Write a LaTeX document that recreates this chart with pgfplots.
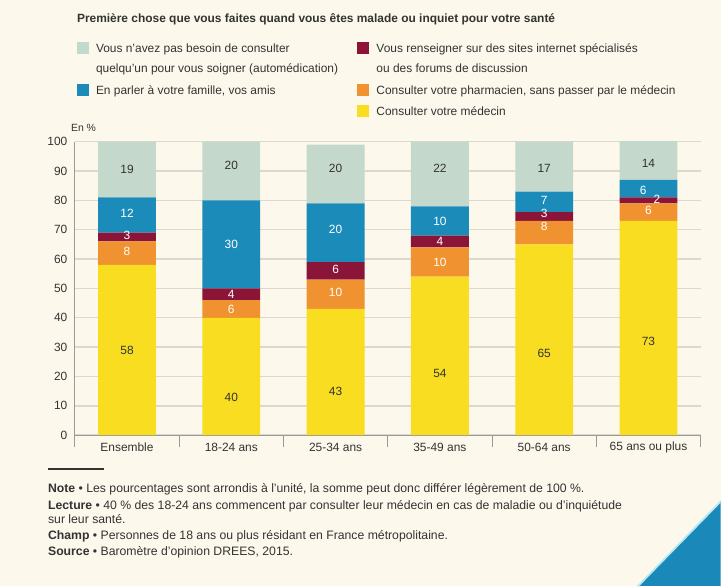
\documentclass[border=0pt]{standalone}
\usepackage{fontspec}
\setmainfont{Liberation Sans}
\usepackage{pgfplots}
\pgfplotsset{compat=1.18}
\usepackage{pgfplotstable}
\definecolor{bg}{HTML}{FDF8EC}
\definecolor{gridcol}{HTML}{DCD8CE}
\definecolor{axcol}{HTML}{9A9A9A}
\definecolor{txt}{HTML}{333333}
\definecolor{cauto}{HTML}{C4D9CC}
\definecolor{cfam}{HTML}{1B8CBA}
\definecolor{cweb}{HTML}{8A1538}
\definecolor{cpha}{HTML}{F0922F}
\definecolor{cmed}{HTML}{F9DD21}
\definecolor{tri}{HTML}{1A88B8}
\definecolor{tricyan}{HTML}{B5E8F2}

\pgfplotstableread{
x med pha web fam auto
0 58 8 3 12 19
1 40 6 4 30 20
2 43 10 6 20 20
3 54 10 4 10 22
4 65 8 3 7 17
5 73 6 2 6 14
}\data

\pgfplotstableread{
x y l
0 90.5 19
1 92 20
2 91 20
3 91 22
4 91 17
5 92.5 14
0 29 58
1 13 40
2 15 43
3 21 54
4 28 65
5 32 73
}\darklab

\pgfplotstableread{
x y l
0 75.5 12
0 68 3
0 62.5 8
1 65 30
1 48 4
1 43 6
2 70 20
2 56.5 6
2 48.5 10
3 73 10
3 66 4
3 59 10
4 80 7
4 75.5 3
4 71 8
4.95 83.5 6
5.08 80.5 2
5 76.5 6
}\whitelab

\begin{document}
\begin{tikzpicture}
\fill[bg] (0bp,0bp) rectangle (722bp,-587bp);
\fill[tri] (722bp,-503bp) -- (722bp,-587bp) -- (640bp,-587bp) -- cycle;
\draw[tricyan, line width=1.8bp] (722.5bp,-502bp) -- (639bp,-587.5bp);

% title
\node[anchor=base west, inner sep=0pt, text=txt, font=\bfseries\fontsize{12}{14}\selectfont] at (77bp,-23bp) {Première chose que vous faites quand vous êtes malade ou inquiet pour votre santé};

% legend
\begin{scope}[every node/.style={anchor=base west, inner sep=0pt, text=txt, font=\fontsize{12}{14}\selectfont}]
\fill[cauto] (77bp,-42bp) rectangle (89bp,-54bp);
\node at (96bp,-52.5bp) {Vous n'avez pas besoin de consulter};
\node at (96bp,-72.5bp) {quelqu'un pour vous soigner (automédication)};
\fill[cfam] (77bp,-84bp) rectangle (89bp,-96bp);
\node at (96bp,-94.5bp) {En parler à votre famille, vos amis};
\fill[cweb] (358bp,-42bp) rectangle (370bp,-54bp);
\node at (377bp,-52.5bp) {Vous renseigner sur des sites internet spécialisés};
\node at (377bp,-72.5bp) {ou des forums de discussion};
\fill[cpha] (358bp,-84bp) rectangle (370bp,-96bp);
\node at (377bp,-94.5bp) {Consulter votre pharmacien, sans passer par le médecin};
\fill[cmed] (358bp,-105bp) rectangle (370bp,-117bp);
\node at (377bp,-115.5bp) {Consulter votre médecin};
\node[font=\fontsize{10.5}{12}\selectfont] at (71bp,-132bp) {En \%};
\end{scope}

\begin{axis}[
  at={(75bp,-436bp)}, anchor=south west, scale only axis,
  width=627bp, height=294bp,
  xmin=-0.5, xmax=5.5, ymin=0, ymax=100,
  ybar stacked, bar width=58bp,
  axis lines*=left,
  axis line style={draw=axcol, line width=0.8bp},
  ytick={0,10,...,100},
  ymajorgrids, grid style={draw=gridcol, line width=1.4bp},
  xtick={0,...,5},
  xticklabels={Ensemble, 18-24 ans, 25-34 ans, 35-49 ans, 50-64 ans, 65 ans ou plus},
  minor xtick={-0.5,0.5,...,5.5},
  major tick length=0pt, minor tick length=12bp,
  tick align=outside,
  major tick style={draw=none},
  minor tick style={draw=axcol, line width=0.8bp},
  tick label style={font=\fontsize{12}{14}\selectfont, text=txt},
  /pgf/number format/assume math mode=true,
  yticklabel style={anchor=east, xshift=-4bp},
  xticklabel style={anchor=center, yshift=-12bp},
]
\addplot[fill=cmed, draw=none] table[x=x, y=med] {\data};
\addplot[fill=cpha, draw=none] table[x=x, y=pha] {\data};
\addplot[fill=cweb, draw=none] table[x=x, y=web] {\data};
\addplot[fill=cfam, draw=none] table[x=x, y=fam] {\data};
\addplot[fill=cauto, draw=none] table[x=x, y=auto] {\data};
\end{axis}

\begin{axis}[
  at={(75bp,-436bp)}, anchor=south west, scale only axis,
  width=627bp, height=294bp,
  xmin=-0.5, xmax=5.5, ymin=0, ymax=100,
  hide axis, clip=false,
]
\addplot[only marks, mark=*, mark size=0pt, mark options={draw=none, fill=none},
  nodes near coords, point meta=explicit symbolic,
  every node near coord/.append style={anchor=center, inner sep=0pt, text=txt, font=\fontsize{12}{14}\selectfont}]
  table[x=x, y=y, meta=l] {\darklab};
\addplot[only marks, mark=*, mark size=0pt, mark options={draw=none, fill=none},
  nodes near coords, point meta=explicit symbolic,
  every node near coord/.append style={anchor=center, inner sep=0pt, text=white, font=\fontsize{12}{14}\selectfont}]
  table[x=x, y=y, meta=l] {\whitelab};
\end{axis}

% notes
\draw[txt, line width=1.6bp] (48bp,-470bp) -- (104bp,-470bp);
\begin{scope}[every node/.style={anchor=base west, inner sep=0pt, text=txt, font=\fontsize{12.3}{14}\selectfont}]
\node at (48bp,-493bp) {\textbf{Note} • Les pourcentages sont arrondis à l'unité, la somme peut donc différer légèrement de 100 \%.};
\node at (48bp,-510bp) {\textbf{Lecture} • 40 \% des 18-24 ans commencent par consulter leur médecin en cas de maladie ou d'inquiétude};
\node at (48bp,-525bp) {sur leur santé.};
\node at (48bp,-541bp) {\textbf{Champ} • Personnes de 18 ans ou plus résidant en France métropolitaine.};
\node at (48bp,-557bp) {\textbf{Source} • Baromètre d'opinion DREES, 2015.};
\end{scope}
\end{tikzpicture}
\end{document}
